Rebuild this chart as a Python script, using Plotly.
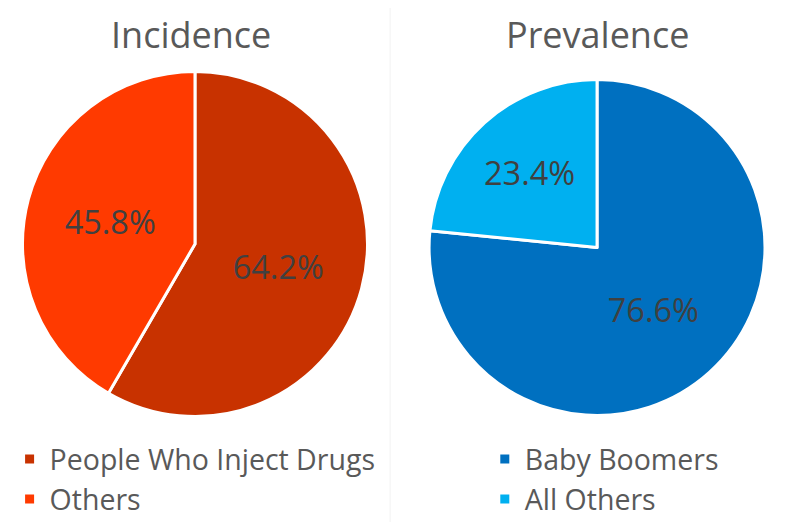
import plotly.graph_objects as go

inc_labels = ["People Who Inject Drugs", "Others"]
inc_values = [64.2, 45.8]
inc_colors = ["#C83200", "#FF3A00"]

prev_labels = ["Baby Boomers", "All Others"]
prev_values = [76.6, 23.4]
prev_colors = ["#0070C0", "#00B0F0"]

titles = ["Incidence", "Prevalence"]

FONT = "Open Sans"
TXT = "#404040"
GRAY = "#595959"

fig = go.Figure()
fig.add_trace(go.Pie(
    labels=inc_labels, values=inc_values,
    text=[f"{v:.1f}%" for v in inc_values], textinfo="text",
    textposition="inside", insidetextorientation="horizontal",
    textfont=dict(family=FONT, size=32.5, color=TXT),
    marker=dict(colors=inc_colors, line=dict(color="white", width=3)),
    sort=False, direction="clockwise", rotation=0,
    domain=dict(x=[0.0182, 0.4516], y=[0.2174, 0.8784]),
    legend="legend", hoverinfo="label+text",
))
fig.add_trace(go.Pie(
    labels=prev_labels, values=prev_values,
    text=[f"{v:.1f}%" for v in prev_values], textinfo="text",
    textposition="inside", insidetextorientation="horizontal",
    textfont=dict(family=FONT, size=32.5, color=TXT),
    marker=dict(colors=prev_colors, line=dict(color="white", width=3)),
    sort=False, direction="clockwise", rotation=0,
    domain=dict(x=[0.529, 0.951], y=[0.2194, 0.8630]),
    legend="legend2", hoverinfo="label+text",
))

fig.update_layout(
    width=796, height=522,
    margin=dict(l=0, r=0, t=0, b=0),
    paper_bgcolor="white", plot_bgcolor="white",
    font=dict(family=FONT, color=GRAY),
    legend=dict(x=0.002, y=0.184, xanchor="left", yanchor="top",
                font=dict(family=FONT, size=28.5, color=GRAY),
                bgcolor="rgba(0,0,0,0)"),
    legend2=dict(x=0.599, y=0.184, xanchor="left", yanchor="top",
                 font=dict(family=FONT, size=28.5, color=GRAY),
                 bgcolor="rgba(0,0,0,0)"),
    annotations=[
        dict(text=titles[0], x=0.230, y=1.0, xref="paper", yref="paper",
             xanchor="center", yanchor="top", showarrow=False,
             font=dict(family=FONT, size=36, color=GRAY)),
        dict(text=titles[1], x=0.740, y=1.0, xref="paper", yref="paper",
             xanchor="center", yanchor="top", showarrow=False,
             font=dict(family=FONT, size=36, color=GRAY)),
    ],
    shapes=[dict(type="line", xref="paper", yref="paper", x0=0.480, x1=0.480,
                 y0=0, y1=1, line=dict(color="#F2F2F2", width=1))],
)

fig.write_html("out.html")
